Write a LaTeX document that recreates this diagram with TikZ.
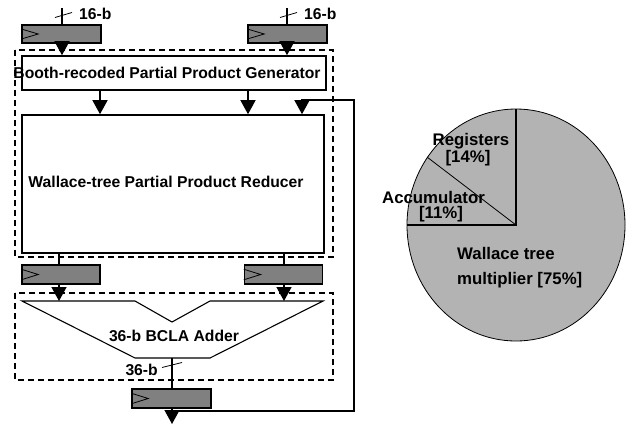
\documentclass[tikz,border=0pt]{standalone}
\usepackage{fontspec}
\setmainfont{Liberation Sans}
\usetikzlibrary{arrows.meta}
\definecolor{reggray}{HTML}{808080}
\definecolor{piegray}{HTML}{B3B3B3}
\newcommand\clkmark[1]{\draw[line width=0.8pt] ([yshift=-5pt]#1.north west) -- ([xshift=17pt]#1.west) -- ([yshift=5pt]#1.south west);}
\begin{document}
\begin{tikzpicture}[x=1pt,y=-1pt,
  font=\bfseries\fontsize{15.7}{18}\selectfont,
  reg/.style={draw, line width=1.6pt, fill=reggray, rectangle, minimum width=79pt, minimum height=18.5pt, inner sep=0pt},
  blk/.style={draw, line width=1.6pt, fill=white, rectangle, inner sep=0pt},
  dbox/.style={draw, line width=1.6pt, dash pattern=on 6pt off 4pt},
  wire/.style={line width=1.4pt},
  arr/.style={line width=1.4pt, -{Triangle[width=15pt,length=14pt]}},
  tickm/.style={line width=0.8pt},
  lbl/.style={inner sep=0pt},
  pielbl/.style={inner sep=0pt, font=\bfseries\fontsize{16.8}{19}\selectfont}]
\useasboundingbox (0,0) rectangle (628,424);

% dashed grouping boxes
\draw[dbox] (15,50) rectangle (333,257);
\draw[dbox] (15,293) rectangle (333,380);

% x positions
\coordinate (xin1) at (62,0);
\coordinate (xin2) at (287,0);
\coordinate (xb1) at (100,0);
\coordinate (xb2) at (248,0);
\coordinate (xf) at (302,0);
\coordinate (xw1) at (59,0);
\coordinate (xw2) at (284,0);
\coordinate (xo) at (172,0);

% input registers
\node[reg] (r1) at (61.5,34) {};
\node[reg] (r2) at (287.5,34) {};
\clkmark{r1}
\clkmark{r2}
\coordinate (in1) at (62,8);
\coordinate (in2) at (287,8);
\draw[wire] (in1) -- (r1.north -| in1);
\draw[wire] (in2) -- (r2.north -| in2);
\draw[tickm] (55,17.5) -- (72,12.5);
\draw[tickm] (280,17.5) -- (297,12.5);
\node[lbl, anchor=west] (l16a) at (79,14) {16-b};
\node[lbl, anchor=west] (l16b) at (304,14) {16-b};

% Booth generator
\node[blk, minimum width=304pt, minimum height=34pt] (booth) at (174,73) {};
\node[lbl] (tbooth) at (167,73) {Booth-recoded Partial Product Generator};
\draw[arr] (r1.south -| xin1) -- (booth.north -| xin1);
\draw[arr] (r2.south -| xin2) -- (booth.north -| xin2);

% Wallace tree reducer
\node[blk, minimum width=302pt, minimum height=138pt] (wal) at (173,184) {};
\node[lbl] (twal) at (166,182) {Wallace-tree Partial Product Reducer};
\draw[arr] (booth.south -| xb1) -- (wal.north -| xb1);
\draw[arr] (booth.south -| xb2) -- (wal.north -| xb2);

% middle registers
\node[reg, minimum width=78pt, minimum height=19pt] (m1) at (61,274.5) {};
\node[reg, minimum width=78pt, minimum height=19pt] (m2) at (283.5,274.5) {};
\clkmark{m1}
\clkmark{m2}
\draw[wire] (wal.south -| xw1) -- (m1.north -| xw1);
\draw[wire] (wal.south -| xw2) -- (m2.north -| xw2);

% adder
\coordinate (a1) at (22,301);
\coordinate (a2) at (135,301);
\coordinate (a3) at (172,322);
\coordinate (a4) at (210,301);
\coordinate (a5) at (323,301);
\coordinate (a6) at (210,358);
\coordinate (a7) at (135,358);
\draw[line width=1.1pt] (a1) -- (a2) -- (a3) -- (a4) -- (a5) -- (a6) -- (a7) -- cycle;
\node[lbl] (tadd) at (174,336) {36-b BCLA Adder};
\draw[arr] (m1.south -| xw1) -- (a1 -| xw1);
\draw[arr] (m2.south -| xw2) -- (a1 -| xw2);

% output register
\node[reg, minimum height=19pt] (rb) at (171.5,398.5) {};
\clkmark{rb}
\draw[wire] (a7 -| xo) -- (rb.north -| xo);
\draw[tickm] (162,367.5) -- (182,362.5);
\node[lbl, anchor=east] (l36) at (158,370) {36-b};
\coordinate (outend) at (172,424);
\draw[arr] (rb.south -| xo) -- (outend);

% feedback path
\coordinate (fb0) at (172,411);
\coordinate (fbc) at (354,100);
\draw[arr] (fb0) -| (fbc) -- (fbc -| xf) -- (wal.north -| xf);

% pie chart
\coordinate (pc) at (516,225);
\coordinate (ptop) at (516,109);
\coordinate (pleft) at (407,225);
\coordinate (pdiv) at (427,157);
\filldraw[fill=piegray, line width=0.8pt] (pc) ellipse [x radius=109pt, y radius=116pt];
\draw[line width=1.6pt] (ptop) -- (pc) -- (pleft);
\draw[line width=0.8pt] (pc) -- (pdiv);
\node[pielbl] (preg) at (471,141) {Registers};
\node[pielbl] (preg2) at (468,158) {[14\%]};
\node[pielbl] (pacc) at (433.5,197) {Accumulator};
\node[pielbl] (pacc2) at (441,214) {[11\%]};
\node[pielbl, anchor=west] (pwal) at (457,253) {Wallace tree};
\node[pielbl, anchor=west] (pwal2) at (457,280) {multiplier [75\%]};
\end{tikzpicture}
\end{document}
